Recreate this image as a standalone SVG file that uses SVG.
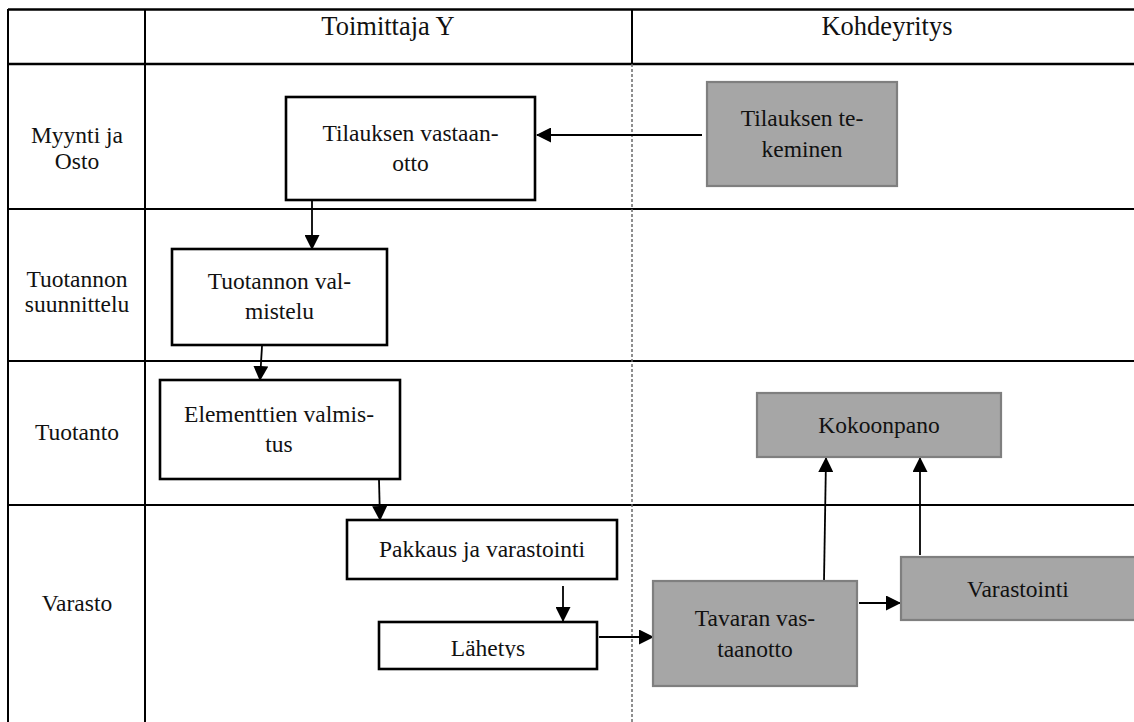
<svg xmlns="http://www.w3.org/2000/svg" width="1134" height="722" viewBox="0 0 1134 722" font-family="Liberation Serif, Times New Roman, serif">
  <style>
    .hdr { font-family: Liberation Serif, Times New Roman, serif; font-size: 26.5px; fill: #111; text-anchor: middle; }
    .lbl { font-family: Liberation Serif, Times New Roman, serif; font-size: 23.5px; fill: #111; text-anchor: middle; }
    .grid { stroke: #000; stroke-width: 2; fill: none; }
    .grid-thick { stroke: #000; stroke-width: 2.6; fill: none; }
    .lane-split { stroke: #6a6a6a; stroke-width: 1.5; stroke-dasharray: 3 2; fill: none; }
    .box { fill: #fff; stroke: #000; stroke-width: 2.6; }
    .box-grey { fill: #a6a6a6; stroke: #7f7f7f; stroke-width: 2.2; }
    .flow { stroke: #000; stroke-width: 1.8; fill: none; marker-end: url(#arrow); }
  </style>
  <defs>
    <marker id="arrow" markerUnits="userSpaceOnUse" markerWidth="15" markerHeight="15" viewBox="0 0 15 15" refX="14" refY="7.5" orient="auto">
      <path d="M0,0 L15,7.5 L0,15 Z" fill="#000"/>
    </marker>
    <clipPath id="clip-lahetys">
      <rect x="379" y="600" width="220" height="58"/>
    </clipPath>
  </defs>

  <rect width="1134" height="722" fill="#fff"/>

  <!-- swimlane table -->
  <g id="table">
    <line class="grid-thick" x1="8" y1="9.5" x2="1134" y2="9.5"/>
    <line class="grid-thick" x1="8" y1="64" x2="1134" y2="64"/>
    <line class="grid" x1="8" y1="209" x2="1134" y2="209"/>
    <line class="grid" x1="8" y1="361" x2="1134" y2="361"/>
    <line class="grid" x1="8" y1="505" x2="1134" y2="505"/>
    <line class="grid" x1="8" y1="9" x2="8" y2="722"/>
    <line class="grid" x1="145" y1="9" x2="145" y2="722"/>
    <line class="grid" x1="632" y1="9" x2="632" y2="64"/>
    <line class="lane-split" x1="632" y1="64" x2="632" y2="722"/>

    <text class="hdr" x="388" y="35">Toimittaja Y</text>
    <text class="hdr" x="887" y="35">Kohdeyritys</text>

    <text class="lbl" x="77" y="143">Myynti ja</text>
    <text class="lbl" x="77" y="169">Osto</text>
    <text class="lbl" x="77" y="287">Tuotannon</text>
    <text class="lbl" x="77" y="312">suunnittelu</text>
    <text class="lbl" x="77" y="440">Tuotanto</text>
    <text class="lbl" x="77" y="611">Varasto</text>
  </g>

  <!-- connectors -->
  <g id="connectors">
    <line class="flow" x1="702" y1="135" x2="537" y2="135"/>
    <line class="flow" x1="312" y1="200" x2="312" y2="249"/>
    <line class="flow" x1="262" y1="346" x2="260" y2="380"/>
    <line class="flow" x1="379" y1="480" x2="380" y2="520"/>
    <line class="flow" x1="563" y1="586" x2="563" y2="621"/>
    <line class="flow" x1="599" y1="637" x2="653" y2="637"/>
    <line class="flow" x1="859" y1="603" x2="900" y2="603"/>
    <line class="flow" x1="824" y1="581" x2="826" y2="458"/>
    <line class="flow" x1="920" y1="555" x2="920" y2="458"/>
  </g>

  <g id="tilauksen-vastaanotto">
    <rect class="box" x="286" y="97" width="249" height="103"/>
    <text class="lbl" x="410.5" y="141">Tilauksen vastaan-</text>
    <text class="lbl" x="410.5" y="171">otto</text>
  </g>

  <g id="tilauksen-tekeminen">
    <rect class="box-grey" x="707" y="82" width="190" height="104"/>
    <text class="lbl" x="802" y="126">Tilauksen te-</text>
    <text class="lbl" x="802" y="157">keminen</text>
  </g>

  <g id="tuotannon-valmistelu">
    <rect class="box" x="172" y="249" width="215" height="96"/>
    <text class="lbl" x="279.5" y="289">Tuotannon val-</text>
    <text class="lbl" x="279.5" y="319">mistelu</text>
  </g>

  <g id="elementtien-valmistus">
    <rect class="box" x="160" y="380" width="240" height="99"/>
    <text class="lbl" x="279" y="422">Elementtien valmis-</text>
    <text class="lbl" x="279" y="452">tus</text>
  </g>

  <g id="pakkaus">
    <rect class="box" x="347" y="520" width="270" height="59"/>
    <text class="lbl" x="482" y="557">Pakkaus ja varastointi</text>
  </g>

  <g id="lahetys">
    <rect class="box" x="379" y="622" width="218" height="47"/>
    <text class="lbl" x="488" y="656" clip-path="url(#clip-lahetys)">Lähetys</text>
  </g>

  <g id="kokoonpano">
    <rect class="box-grey" x="757" y="393" width="244" height="64"/>
    <text class="lbl" x="879" y="433">Kokoonpano</text>
  </g>

  <g id="tavaran-vastaanotto">
    <rect class="box-grey" x="653" y="581" width="204" height="105"/>
    <text class="lbl" x="755" y="626">Tavaran vas-</text>
    <text class="lbl" x="755" y="657">taanotto</text>
  </g>

  <g id="varastointi">
    <rect class="box-grey" x="901" y="557" width="236" height="63"/>
    <text class="lbl" x="1018" y="597">Varastointi</text>
  </g>
</svg>
